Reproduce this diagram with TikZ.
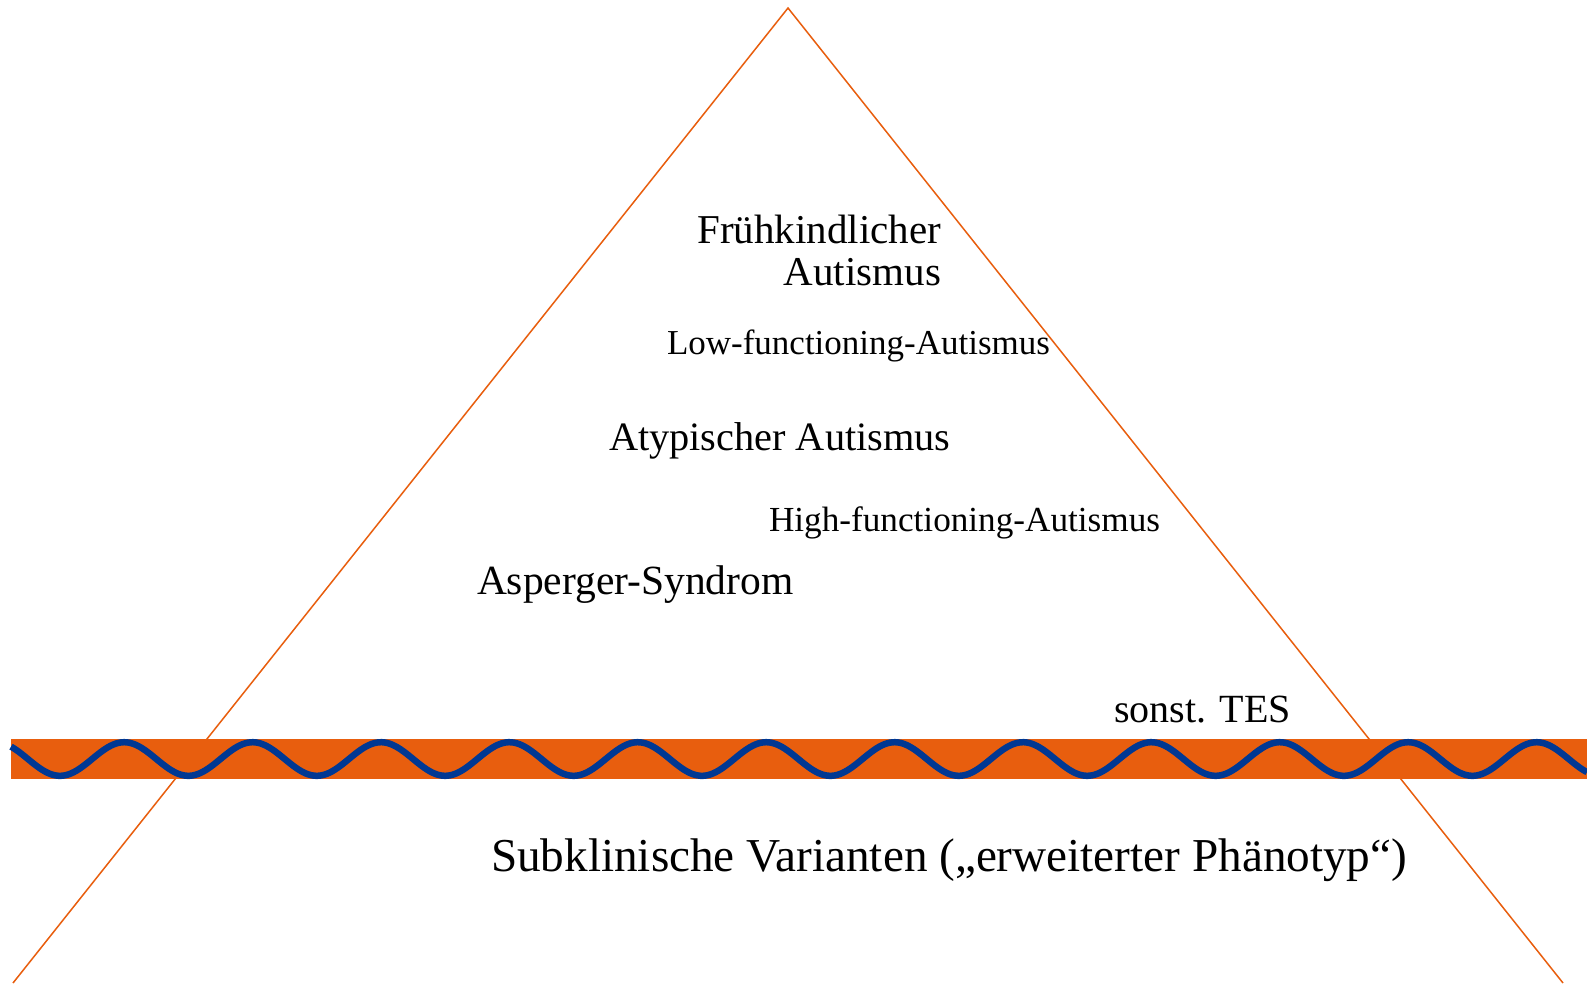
\documentclass[tikz,border=0pt]{standalone}
\usepackage{fontspec}
\setmainfont{Liberation Serif}
\definecolor{bandorange}{RGB}{232,94,14}
\definecolor{waveblue}{RGB}{0,56,147}
\begin{document}
\begin{tikzpicture}[x=1pt,y=-1pt,
  lbl/.style={inner sep=0pt,outer sep=0pt,text=black},
  big/.style={lbl,font=\fontsize{40}{44}\selectfont},
  bigger/.style={lbl,font=\fontsize{41}{45}\selectfont},
  mid/.style={lbl,font=\fontsize{35}{40}\selectfont},
  huge/.style={lbl,font=\fontsize{47}{52}\selectfont},
  tri/.style={draw=bandorange,line width=1.5pt},
  band/.style={fill=bandorange},
  wave/.style={draw=waveblue,line width=6.5pt}]
\useasboundingbox (0,0) rectangle (1587,983);
\fill[white] (0,0) rectangle (1587,983);
% pyramid
\coordinate (apex) at (788,8);
\coordinate (bl) at (13,983);
\coordinate (br) at (1563,983);
\draw[tri] (bl) -- (apex) -- (br);
% band with wave
\path[band] (11,739) rectangle (1587,779);
\draw[wave] plot[domain=11:1587,samples=600,smooth] (\x,{759+16.8*cos(2.80374*(\x-60))});
% labels
\node[bigger,anchor=base east] (fk1) at (941,243) {Frühkindlicher};
\node[bigger,anchor=base east] (fk2) at (941,285) {Autismus};
\node[mid,anchor=base west] (lfa) at (667,354) {Low-functioning-Autismus};
\node[big,font=\fontsize{40.3}{44}\selectfont,anchor=base west] (aty) at (609,450) {Atypischer Autismus};
\node[mid,font=\fontsize{35.2}{40}\selectfont,anchor=base west] (hfa) at (769,531) {High-functioning-Autismus};
\node[bigger,font=\fontsize{41.5}{45}\selectfont,anchor=base west] (asp) at (477,594) {Asperger-Syndrom};
\node[big,anchor=base west] (tes) at (1114,722) {sonst. TES};
\node[huge,font=\fontsize{47.2}{52}\selectfont,anchor=base west] (sub) at (491,871) {Subklinische Varianten („erweiterter Phänotyp“)};
\end{tikzpicture}
\end{document}
